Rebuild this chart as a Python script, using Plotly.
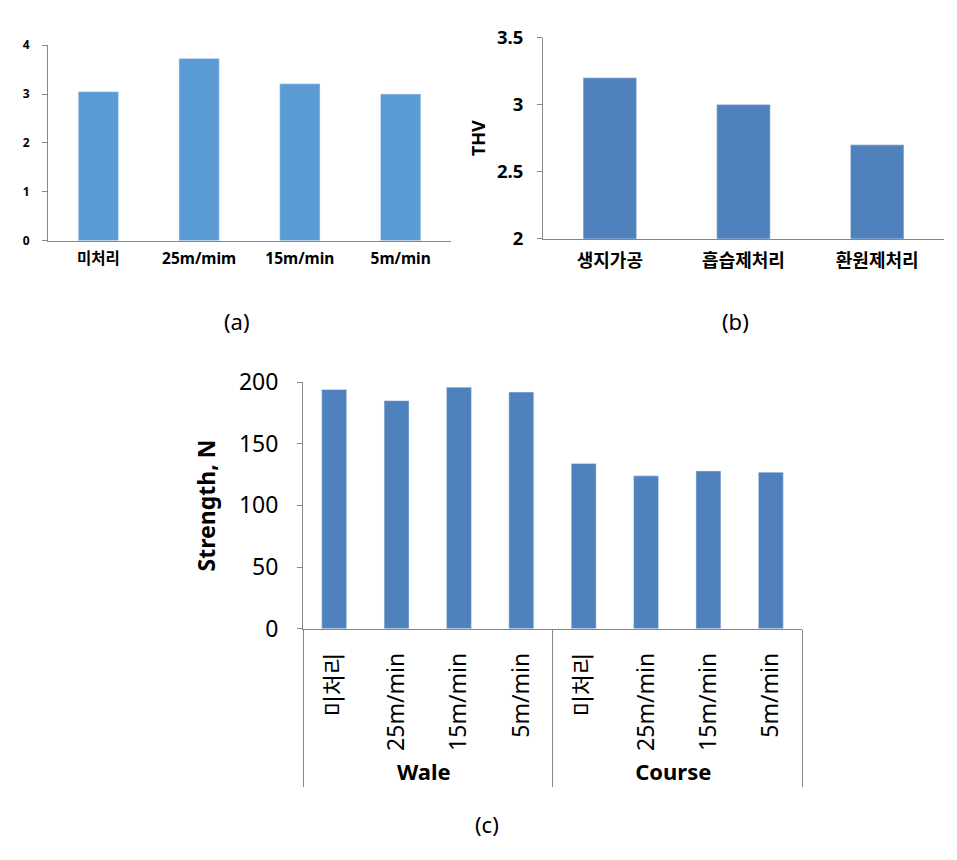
import plotly.graph_objects as go

# (a) untitled panel, four treatment speeds
speed_labels_a = ["미처리", "25m/mim", "15m/min", "5m/min"]
values_a = [3.05, 3.73, 3.21, 3.00]

# (b) THV by process
process_labels_b = ["생지가공", "흡습제처리", "환원제처리"]
thv_values = [3.20, 3.00, 2.70]

# (c) strength, grouped by direction
groups_c = ["Wale", "Wale", "Wale", "Wale",
            "Course", "Course", "Course", "Course"]
speed_labels_c = ["미처리", "25m/min", "15m/min", "5m/min",
                  "미처리", "25m/min", "15m/min", "5m/min"]
strength_values = [194, 185, 196, 192, 134, 124, 128, 127]

W, H = 957, 860
PAGE_MARGIN = 8  # default <body> margin around the plot div
FONT = "Noto Sans, Noto Sans CJK KR, sans-serif"
AXIS_GREY = "#868686"


def dx(left, right):
    return [(left - PAGE_MARGIN) / W, (right - PAGE_MARGIN) / W]


def dy(bottom, top):
    return [1 - (bottom - PAGE_MARGIN) / H, 1 - (top - PAGE_MARGIN) / H]


group_text = [f"<b><span style='font-size:22px'>{g}</span></b>" for g in groups_c]

fig = go.Figure()

fig.add_trace(go.Bar(x=speed_labels_a, y=values_a, marker_color="#5B9BD5",
                     xaxis="x", yaxis="y", showlegend=False))
fig.add_trace(go.Bar(x=process_labels_b, y=thv_values, marker_color="#4F81BD",
                     xaxis="x2", yaxis="y2", showlegend=False))
fig.add_trace(go.Bar(x=[group_text, speed_labels_c], y=strength_values,
                     marker_color="#4F81BD", xaxis="x3", yaxis="y3",
                     showlegend=False))

common_x = dict(showline=True, linecolor=AXIS_GREY, linewidth=1, ticks="",
                showgrid=False, zeroline=False)
common_y = dict(showline=True, linecolor=AXIS_GREY, linewidth=1,
                ticks="outside", ticklen=5, tickcolor=AXIS_GREY,
                showgrid=False, zeroline=False)

fig.update_layout(
    width=W,
    height=H,
    autosize=False,
    margin=dict(l=0, r=0, t=0, b=0),
    paper_bgcolor="white",
    plot_bgcolor="white",
    font=dict(family=FONT, color="black"),
    bargap=0.6,
    xaxis=dict(domain=dx(48, 451), anchor="y",
               tickfont=dict(size=15.5, weight="bold"), ticklabelstandoff=4,
               **common_x),
    yaxis=dict(domain=dy(232, 29), anchor="x", range=[0, 4], dtick=1,
               tickfont=dict(size=12, weight="bold"), ticklabelstandoff=10,
               **common_y),
    xaxis2=dict(domain=dx(543, 944), anchor="y2",
                tickfont=dict(size=18, weight="bold"), ticklabelstandoff=6,
                **common_x),
    yaxis2=dict(domain=dy(230, 21), anchor="x2", range=[2, 3.5], dtick=0.5,
                tickfont=dict(size=18.5, weight="bold"), ticklabelstandoff=10,
                title=dict(text="THV", font=dict(size=18, weight="bold"),
                           standoff=6),
                **common_y),
    xaxis3=dict(domain=dx(303, 802), anchor="y3", type="multicategory",
                tickangle=-90, tickfont=dict(size=23), ticklabelstandoff=14,
                showdividers=True, dividercolor=AXIS_GREY, dividerwidth=1,
                **common_x),
    yaxis3=dict(domain=dy(635, 379), anchor="x3", range=[0, 200], dtick=50,
                tickfont=dict(size=23), ticklabelstandoff=14,
                title=dict(text="Strength, N", font=dict(size=23, weight="bold"),
                           standoff=16),
                **common_y),
)

captions = [("(a)", 237, 315), ("(b)", 735, 315), ("(c)", 487, 838)]
for text, px, py in captions:
    fig.add_annotation(text=text, x=(px - PAGE_MARGIN) / W,
                       y=1 - (py - PAGE_MARGIN) / H, xref="paper",
                       yref="paper", xanchor="center", yanchor="middle",
                       showarrow=False, font=dict(size=22, family=FONT))

fig.write_html("out.html")
